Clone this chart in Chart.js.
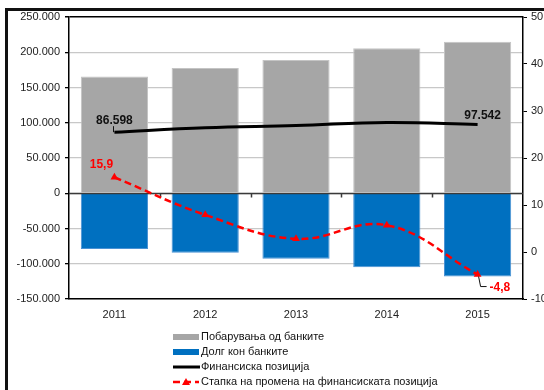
<!DOCTYPE html>
<html>
<head>
<meta charset="utf-8">
<script src="https://cdn.jsdelivr.net/npm/chart.js@4"></script>
<style>
    html, body { margin: 0; padding: 0; background: #fff; overflow: hidden; width: 544px; height: 390px; }
    #frame { position: absolute; left: 5px; top: 8px; width: 600px; height: 400px; border-left: 3px solid #111; border-top: 3px solid #111; }
    #wrap { position: absolute; left: 0; top: 0; width: 570px; height: 330px; }
    #legend { position: absolute; left: 173px; top: 329px; font: 11px "Liberation Sans", Arial, sans-serif; color: #111; }
    #legend div { height: 15px; line-height: 15px; display: flex; align-items: center; white-space: nowrap; }
    #legend svg { margin-right: 1px; }
</style>
</head>
<body>
<div id="frame"></div>
<div id="wrap"><canvas id="finChart"></canvas></div>
<div id="legend"></div>
<script>
const godini = ['2011', '2012', '2013', '2014', '2015'];
const pobaruvanja = [165500, 177500, 189000, 205500, 215000];
const dolg = [-79000, -84500, -93000, -105000, -118000];
const finPozicija = [86598, 93000, 96000, 100500, 97542];
const stapka = [15.9, 7.9, 2.8, 5.7, -4.8];

const leviTickovi = { min: -150000, max: 250000, step: 50000 };
const desniTickovi = { min: -10, max: 50, step: 10 };

const boiNaSeriite = ['#a6a6a6', '#0070c0', '#000000', '#ff0000'];
const iminjaNaSeriite = [
    'Побарувања од банките',
    'Долг кон банките',
    'Финансиска позиција',
    'Стапка на промена на финансиската позиција'
];

const formatBroj = v => v.toLocaleString('de-DE');
const formatStapka = v => v.toLocaleString('de-DE', { minimumFractionDigits: 1 });

// нулта линија преку столбовите + мали цртички меѓу категориите
const nultaLinija = {
    id: 'nultaLinija',
    afterDatasetDraw(chart, args) {
        if (args.index !== 1) return;
        const { ctx, chartArea, scales: { x, y } } = chart;
        const y0 = Math.round(y.getPixelForValue(0)) + 0.5;
        ctx.save();
        ctx.strokeStyle = '#3a3a3a';
        ctx.lineWidth = 1.5;
        ctx.beginPath();
        ctx.moveTo(chartArea.left, y0);
        ctx.lineTo(chartArea.right, y0);
        const step = (chartArea.right - chartArea.left) / godini.length;
        for (let i = 1; i < godini.length; i++) {
            const px = Math.round(chartArea.left + step * i) + 0.5;
            ctx.moveTo(px, y0);
            ctx.lineTo(px, y0 + 4);
        }
        ctx.stroke();
        ctx.restore();
    }
};

// ознаки со вредности на првата и последната точка
const oznaki = {
    id: 'oznaki',
    afterDatasetsDraw(chart) {
        const { ctx } = chart;
        const crna = chart.getDatasetMeta(2).data;
        const crvena = chart.getDatasetMeta(3).data;
        const last = godini.length - 1;
        ctx.save();
        ctx.font = 'bold 12px "Liberation Sans", Arial, sans-serif';
        ctx.textAlign = 'center';
        ctx.textBaseline = 'middle';

        ctx.fillStyle = '#111';
        ctx.fillText(formatBroj(finPozicija[0]), crna[0].x, crna[0].y - 12);
        ctx.fillText(formatBroj(finPozicija[last]), crna[last].x + 5, crna[last].y - 9);
        ctx.strokeStyle = '#111';
        ctx.lineWidth = 1;
        ctx.beginPath();
        ctx.moveTo(Math.round(crna[0].x) - 0.5, crna[0].y - 6);
        ctx.lineTo(Math.round(crna[0].x) - 0.5, crna[0].y);
        ctx.stroke();

        ctx.fillStyle = '#ff0000';
        ctx.fillText(formatStapka(stapka[0]), crvena[0].x - 13, crvena[0].y - 13);
        ctx.textAlign = 'left';
        ctx.fillText(formatStapka(stapka[last]), crvena[last].x + 12, crvena[last].y + 13);
        ctx.beginPath();
        ctx.moveTo(crvena[last].x + 1, crvena[last].y + 2);
        ctx.lineTo(crvena[last].x + 3, crvena[last].y + 12);
        ctx.lineTo(crvena[last].x + 9, crvena[last].y + 12);
        ctx.strokeStyle = '#111';
        ctx.stroke();
        ctx.restore();
    }
};

new Chart(document.querySelector('#finChart'), {
    data: {
        labels: godini,
        datasets: [
            { type: 'bar', label: iminjaNaSeriite[0], data: pobaruvanja, yAxisID: 'y', order: 4,
              backgroundColor: boiNaSeriite[0], borderColor: '#c4c4c4', borderWidth: 1,
              grouped: false, barPercentage: 0.74, categoryPercentage: 1 },
            { type: 'bar', label: iminjaNaSeriite[1], data: dolg, yAxisID: 'y', order: 3,
              backgroundColor: boiNaSeriite[1], borderColor: '#4a92d4', borderWidth: 1,
              grouped: false, barPercentage: 0.74, categoryPercentage: 1 },
            { type: 'line', label: iminjaNaSeriite[2], data: finPozicija, yAxisID: 'y', order: 2,
              borderColor: boiNaSeriite[2], borderWidth: 3, tension: 0.4, pointRadius: 0,
              borderCapStyle: 'butt' },
            { type: 'line', label: iminjaNaSeriite[3], data: stapka, yAxisID: 'y1', order: 1,
              borderColor: boiNaSeriite[3], backgroundColor: boiNaSeriite[3], borderWidth: 2.5,
              borderDash: [7, 4], tension: 0.4, pointStyle: 'triangle', pointRadius: 4.5,
              pointBorderWidth: 0 }
        ]
    },
    options: {
        responsive: true,
        maintainAspectRatio: false,
        animation: false,
        layout: { padding: { left: 0, right: 0, top: 17, bottom: 0 } },
        plugins: { legend: { display: false }, tooltip: { enabled: false } },
        scales: {
            x: {
                grid: { display: false, drawTicks: false },
                border: { color: '#000', width: 1.5 },
                ticks: { padding: 9, color: '#222', font: { family: '"Liberation Sans", Arial, sans-serif', size: 11 } },
                afterFit: s => { s.height = 31; }
            },
            y: {
                position: 'left',
                min: leviTickovi.min,
                max: leviTickovi.max,
                grid: {
                    color: c => c.tick && c.tick.value === leviTickovi.max ? '#000' : '#c8c8c8',
                    lineWidth: c => c.tick && c.tick.value === leviTickovi.max ? 1.5 : 1.3,
                    tickColor: '#000',
                    tickLength: 4
                },
                border: { color: '#000', width: 1.5 },
                ticks: {
                    stepSize: leviTickovi.step,
                    padding: 5,
                    color: '#222',
                    font: { family: '"Liberation Sans", Arial, sans-serif', size: 11 },
                    callback: v => formatBroj(v)
                },
                afterFit: s => { s.width = 69; }
            },
            y1: {
                position: 'right',
                min: desniTickovi.min,
                max: desniTickovi.max,
                grid: { drawOnChartArea: false, tickColor: '#000', tickLength: 4 },
                border: { color: '#000', width: 1.5 },
                ticks: {
                    stepSize: desniTickovi.step,
                    padding: 4,
                    color: '#222',
                    font: { family: '"Liberation Sans", Arial, sans-serif', size: 11 }
                },
                afterFit: s => { s.width = 47; }
            }
        }
    },
    plugins: [nultaLinija, oznaki]
});

// легенда под графиконот, по една ставка во ред
const znaci = [
    `<svg width="27" height="8"><rect x="0" y="1" width="26" height="6" fill="${boiNaSeriite[0]}"/></svg>`,
    `<svg width="27" height="8"><rect x="0" y="1" width="26" height="6" fill="${boiNaSeriite[1]}"/></svg>`,
    `<svg width="27" height="8"><line x1="0" y1="4" x2="27" y2="4" stroke="#000" stroke-width="3"/></svg>`,
    `<svg width="27" height="8"><line x1="0" y1="4" x2="26" y2="4" stroke="${boiNaSeriite[3]}" stroke-width="2.5" stroke-dasharray="7 4"/>` +
        `<polygon points="13,0 17,7 9,7" fill="${boiNaSeriite[3]}"/></svg>`
];
document.querySelector('#legend').innerHTML = iminjaNaSeriite
    .map((ime, i) => `<div>${znaci[i]}<span>${ime}</span></div>`)
    .join('');
</script>
</body>
</html>
